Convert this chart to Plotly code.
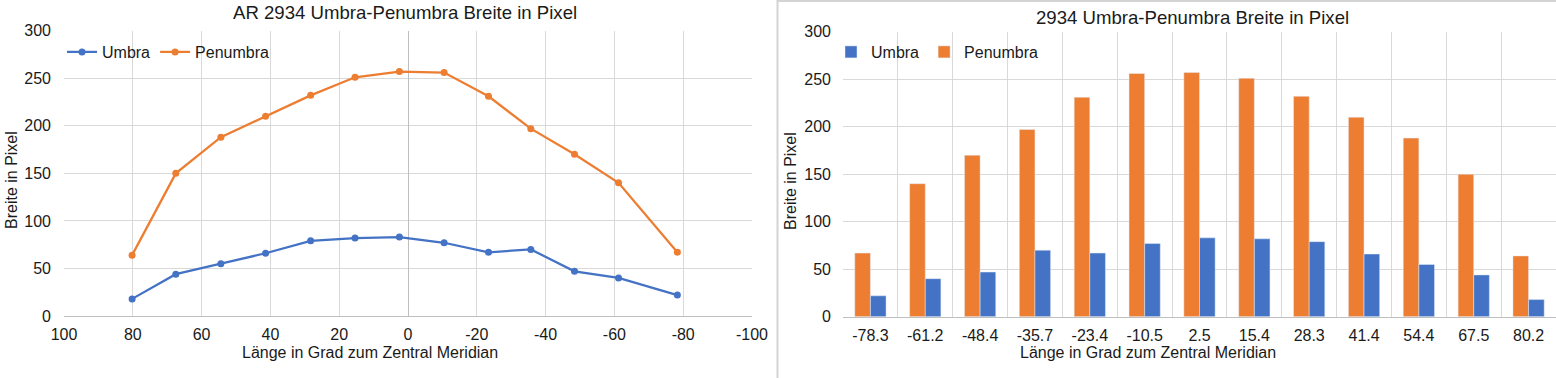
import plotly.graph_objects as go

# ---- data ----
longitude = [80.2, 67.5, 54.4, 41.4, 28.3, 15.4, 2.5, -10.5, -23.4, -35.7, -48.4, -61.2, -78.3]
umbra = [18, 44, 55, 66, 79, 82, 83, 77, 67, 70, 47, 40, 22]
penumbra = [64, 150, 188, 210, 232, 251, 257, 256, 231, 197, 170, 140, 67]

x_tick_values = [100, 80, 60, 40, 20, 0, -20, -40, -60, -80, -100]
x_tick_labels = ["100", "80", "60", "40", "20", "0", "-20", "-40", "-60", "-80", "-100"]

bar_labels = ["-78.3", "-61.2", "-48.4", "-35.7", "-23.4", "-10.5", "2.5",
              "15.4", "28.3", "41.4", "54.4", "67.5", "80.2"]
bar_umbra = [22, 40, 47, 70, 67, 77, 83, 82, 79, 66, 55, 44, 18]
bar_penumbra = [67, 140, 170, 197, 231, 256, 257, 251, 232, 210, 188, 150, 64]

title_left = "AR 2934 Umbra-Penumbra Breite in Pixel"
title_right = "2934 Umbra-Penumbra Breite in Pixel"
x_title = "Länge in Grad zum Zentral Meridian"
y_title = "Breite in Pixel"

BLUE = "#4472C4"
ORANGE = "#ED7D31"
GRID = "#d9d9d9"
AXIS = "#bfbfbf"
TXT = "#1a1a1a"
FONT = "Liberation Sans, Arial, sans-serif"

W, H = 1556, 378

fig = go.Figure()

# ---- left: line chart ----
fig.add_trace(go.Scatter(x=longitude, y=umbra, name="Umbra", mode="lines+markers",
                         line=dict(color=BLUE, width=2.25), marker=dict(size=7, color=BLUE),
                         xaxis="x", yaxis="y", legend="legend", legendrank=1))
fig.add_trace(go.Scatter(x=longitude, y=penumbra, name="Penumbra", mode="lines+markers",
                         line=dict(color=ORANGE, width=2.25), marker=dict(size=7, color=ORANGE),
                         xaxis="x", yaxis="y", legend="legend", legendrank=2))

# ---- right: bar chart ----
fig.add_trace(go.Bar(x=bar_labels, y=bar_penumbra, name="Penumbra", marker_color=ORANGE,
                     xaxis="x2", yaxis="y2", legend="legend2", legendrank=2))
fig.add_trace(go.Bar(x=bar_labels, y=bar_umbra, name="Umbra", marker_color=BLUE,
                     xaxis="x2", yaxis="y2", legend="legend2", legendrank=1))

tickfont = dict(family=FONT, size=16, color=TXT)

fig.update_layout(
    width=W, height=H,
    margin=dict(l=0, r=0, t=0, b=0, autoexpand=False),
    paper_bgcolor="white", plot_bgcolor="white",
    font=dict(family=FONT, size=16, color=TXT),
    barmode="group", bargap=0.43, bargroupgap=0,
    showlegend=True,
    xaxis=dict(domain=[64 / W, 752 / W], range=[100, -100],
               tickmode="array", tickvals=x_tick_values, ticktext=x_tick_labels,
               showgrid=True, gridcolor=GRID, gridwidth=1,
               zeroline=True, zerolinecolor=AXIS, zerolinewidth=1,
               showline=True, linecolor=AXIS, linewidth=1, ticks="",
               tickfont=tickfont, ticklabelstandoff=4, anchor="y", automargin=False),
    yaxis=dict(domain=[1 - 316 / H, 1 - 30.7 / H], range=[0, 300], dtick=50,
               showgrid=True, gridcolor=GRID, gridwidth=1, zeroline=False,
               showline=False, ticks="", tickfont=tickfont, ticklabelstandoff=12,
               anchor="x", automargin=False),
    xaxis2=dict(domain=[843 / W, 1.0], type="category", tickson="boundaries",
                showgrid=True, gridcolor=GRID, gridwidth=1,
                showline=True, linecolor=AXIS, linewidth=1, ticks="",
                tickfont=tickfont, ticklabelstandoff=4, anchor="y2", automargin=False),
    yaxis2=dict(domain=[1 - 316.7 / H, 1 - 31.7 / H], range=[0, 300], dtick=50,
                showgrid=True, gridcolor=GRID, gridwidth=1, zeroline=False,
                showline=False, ticks="", tickfont=tickfont, ticklabelstandoff=11,
                anchor="x2", automargin=False),
    legend=dict(orientation="h", x=62 / W, y=1 - 35 / H, xanchor="left", yanchor="top",
                bgcolor="rgba(0,0,0,0)", font=dict(family=FONT, size=16, color=TXT),
                traceorder="normal", itemwidth=30),
    legend2=dict(orientation="h", x=831 / W, y=1 - 35 / H, xanchor="left", yanchor="top",
                 bgcolor="rgba(0,0,0,0)", font=dict(family=FONT, size=16, color=TXT),
                 traceorder="normal", itemwidth=30),
    shapes=[dict(type="rect", xref="paper", yref="paper",
                 x0=777.5 / W, x1=1.01, y0=-0.01, y1=1 - 1 / H,
                 line=dict(color="#d4d4d4", width=2))],
    annotations=[
        dict(text=title_left, x=405 / W, y=1 - 12 / H, xref="paper", yref="paper",
             showarrow=False, xanchor="center", yanchor="middle",
             font=dict(family=FONT, size=18.6, color=TXT)),
        dict(text=title_right, x=1192 / W, y=1 - 17 / H, xref="paper", yref="paper",
             showarrow=False, xanchor="center", yanchor="middle",
             font=dict(family=FONT, size=18.6, color=TXT)),
        dict(text=x_title, x=369.5 / W, y=1 - 352 / H, xref="paper", yref="paper",
             showarrow=False, xanchor="center", yanchor="middle",
             font=dict(family=FONT, size=16, color=TXT)),
        dict(text=x_title, x=1148 / W, y=1 - 352 / H, xref="paper", yref="paper",
             showarrow=False, xanchor="center", yanchor="middle",
             font=dict(family=FONT, size=16, color=TXT)),
        dict(text=y_title, x=11 / W, y=1 - 180 / H, xref="paper", yref="paper",
             showarrow=False, xanchor="center", yanchor="middle", textangle=-90,
             font=dict(family=FONT, size=16, color=TXT)),
        dict(text=y_title, x=790 / W, y=1 - 181 / H, xref="paper", yref="paper",
             showarrow=False, xanchor="center", yanchor="middle", textangle=-90,
             font=dict(family=FONT, size=16, color=TXT)),
    ],
)

fig.write_html("out.html",
               config={"displayModeBar": False},
               post_script="document.body.style.margin='0px';document.body.style.overflow='hidden';")
